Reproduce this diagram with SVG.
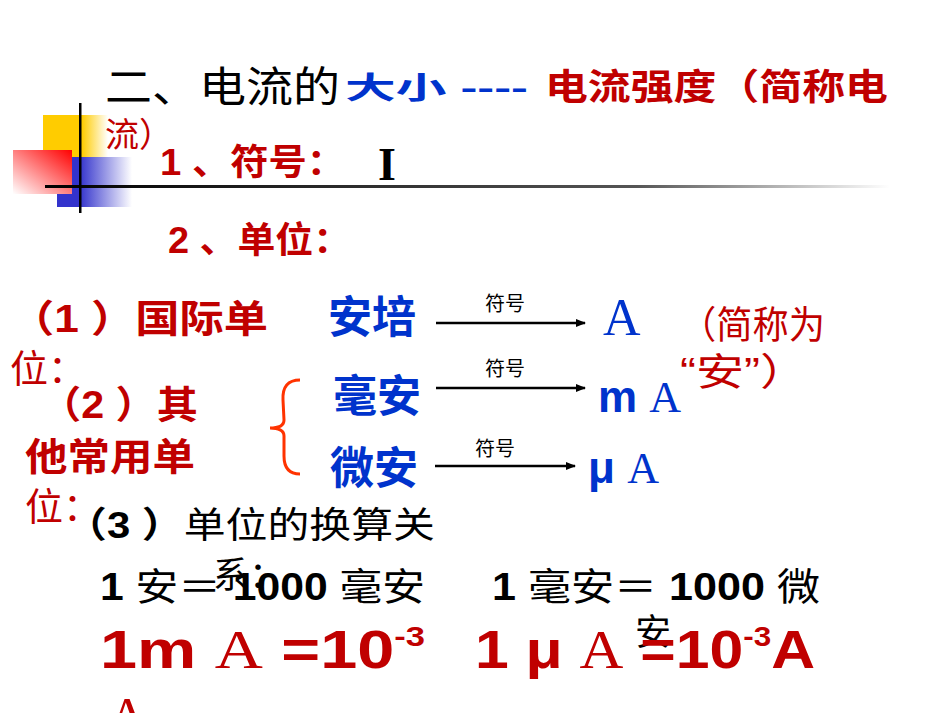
<svg xmlns="http://www.w3.org/2000/svg" width="950" height="713" viewBox="0 0 950 713">
<defs>
<linearGradient id="hl" x1="0" x2="1"><stop offset="0" stop-color="#000"/><stop offset="0.7" stop-color="#555"/><stop offset="1" stop-color="#fff"/></linearGradient>
<linearGradient id="rg" x1="1" x2="0" y1="0" y2="1"><stop offset="0" stop-color="#f00"/><stop offset="1" stop-color="#fff"/></linearGradient>
<linearGradient id="bg" x1="0" x2="1"><stop offset="0.3" stop-color="#33c"/><stop offset="1" stop-color="#fff"/></linearGradient>
<linearGradient id="yg" x1="0" x2="1"><stop offset="0.6" stop-color="#fc0"/><stop offset="1" stop-color="#fff"/></linearGradient>
<marker id="ar" markerWidth="10" markerHeight="8" refX="9" refY="4" orient="auto" markerUnits="userSpaceOnUse"><path d="M0,0 L10,4 L0,8 z" fill="#000"/></marker>
</defs>
<style>
text{font-family:"Liberation Sans","Noto Sans CJK SC",sans-serif;font-weight:bold}
.r{fill:#c00000}.b{fill:#0033cc}.k{fill:#000}
.s{font-family:"Liberation Serif","Noto Sans CJK SC",serif;font-weight:normal}
.n{font-weight:normal}
</style>
<rect width="950" height="713" fill="#fff"/>
<g id="deco">
<rect x="43" y="115" width="65" height="42" fill="url(#yg)"/>
<rect x="57" y="157" width="75" height="50" fill="url(#bg)"/>
<rect x="13" y="150" width="59" height="44" fill="url(#rg)"/>
<rect x="45" y="185" width="845" height="3" fill="url(#hl)"/>
<rect x="79" y="103" width="2.5" height="110" fill="#000"/>
</g>
<g id="title">
<text x="105" y="102" font-size="42" class="k n" textLength="235" lengthAdjust="spacingAndGlyphs">二、电流的</text>
<text x="345" y="98" font-size="30" class="b" textLength="183" lengthAdjust="spacingAndGlyphs">大小 ----</text>
<text x="545" y="100" font-size="36" class="r" textLength="343" lengthAdjust="spacingAndGlyphs">电流强度（简称电</text>
<text x="105" y="147" font-size="34" class="r n">流）</text>
<text x="160" y="175" font-size="36" class="r" textLength="185" lengthAdjust="spacingAndGlyphs">1 、符号：</text>
<text x="378" y="180" font-size="46" class="k s" style="font-weight:bold">I</text>
<text x="168" y="253" font-size="36" class="r" textLength="183" lengthAdjust="spacingAndGlyphs">2 、单位：</text>
</g>
<g id="labels">
<text x="10" y="332" font-size="38" class="r" textLength="258" lengthAdjust="spacingAndGlyphs">（1 ）国际单</text>
<text x="10" y="382" font-size="38" class="r n">位：</text>
<text x="40" y="418" font-size="38" class="r" textLength="158" lengthAdjust="spacingAndGlyphs">（2 ）其</text>
<text x="25" y="470" font-size="38" class="r" textLength="170" lengthAdjust="spacingAndGlyphs">他常用单</text>
<text x="25" y="520" font-size="38" class="r n">位：</text>
<path d="M300,380 Q282,380 283,400 L284,420 Q284,428 270,428 Q284,428 284,436 L284,456 Q284,474 300,474" fill="none" stroke="#ff3300" stroke-width="3"/>
</g>
<g id="units">
<text x="328" y="333" font-size="44" class="b">安培</text>
<text x="333" y="412" font-size="44" class="b">毫安</text>
<text x="330" y="484" font-size="44" class="b">微安</text>
<text x="603" y="335" font-size="52" class="b s">A</text>
<text x="598" y="412" font-size="44" class="b">m <tspan class="s" style="font-weight:normal">A</tspan></text>
<text x="588" y="483" font-size="44" class="b">μ <tspan class="s" style="font-weight:normal">A</tspan></text>
<text x="680" y="338" font-size="38" class="r n" textLength="145" lengthAdjust="spacingAndGlyphs">（简称为</text>
<text x="680" y="385" font-size="38" class="r n" textLength="128" lengthAdjust="spacingAndGlyphs">“安”）</text>
</g>
<g id="connectors" stroke="#000" stroke-width="2.5">
<line x1="436" y1="323" x2="585" y2="323" marker-end="url(#ar)"/>
<line x1="436" y1="388" x2="585" y2="388" marker-end="url(#ar)"/>
<line x1="435" y1="466" x2="575" y2="466" marker-end="url(#ar)"/>
</g>
<g id="arrowlabels">
<text x="485" y="311" font-size="20" class="k n">符号</text>
<text x="485" y="376" font-size="20" class="k n">符号</text>
<text x="475" y="456" font-size="20" class="k n">符号</text>
</g>
<g id="conv">
<text x="65" y="538" font-size="36" class="k" textLength="370" lengthAdjust="spacingAndGlyphs">（3 ）<tspan class="n">单位的换算关</tspan></text>
<text x="213" y="588" font-size="36" class="k n">系：</text>
<text x="100" y="600" font-size="38" class="k" textLength="325" lengthAdjust="spacingAndGlyphs">1 <tspan class="n">安＝ </tspan>1000 <tspan class="n">毫安</tspan></text>
<text x="492" y="600" font-size="38" class="k" textLength="328" lengthAdjust="spacingAndGlyphs">1 <tspan class="n">毫安＝ </tspan>1000 <tspan class="n">微</tspan></text>
<text x="635" y="645" font-size="36" class="k n">安</text>
<text x="100" y="668" font-size="54" class="r" textLength="325" lengthAdjust="spacingAndGlyphs">1m <tspan class="s">A</tspan>  =10<tspan font-size="28" dy="-22">-3</tspan></text>
<text x="475" y="668" font-size="54" class="r" textLength="340" lengthAdjust="spacingAndGlyphs">1 μ <tspan class="s">A</tspan>  =10<tspan font-size="28" dy="-22">-3</tspan><tspan dy="22">A</tspan></text>
<text x="108" y="735" font-size="54" class="r s">A</text>
</g>
</svg>
